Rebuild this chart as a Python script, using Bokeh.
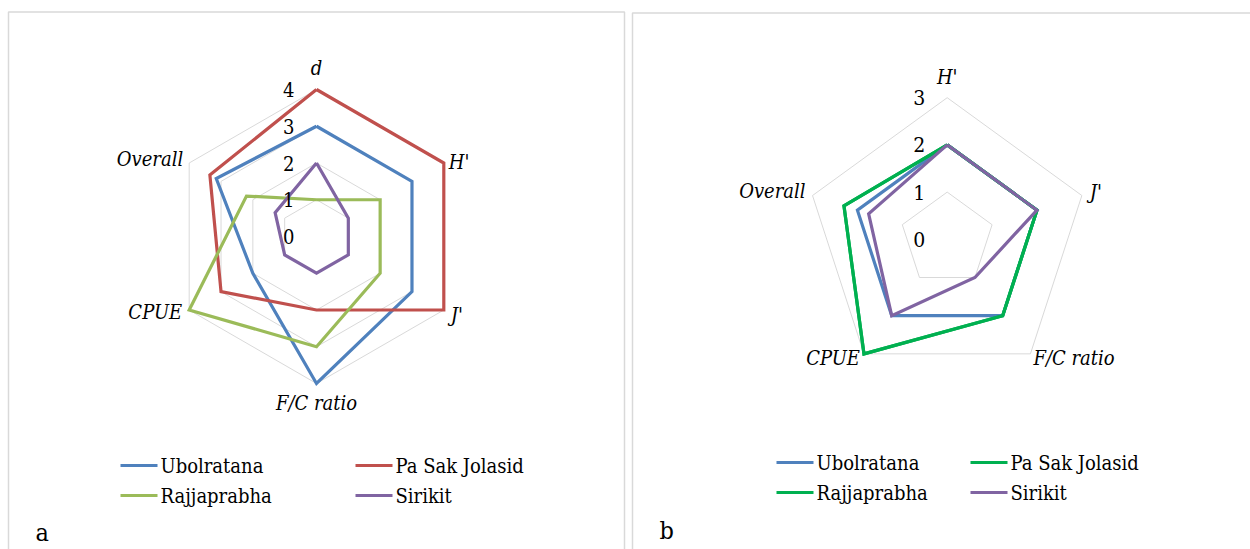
import math
from bokeh.plotting import figure
from bokeh.models import Range1d
from bokeh.core.properties import value
from bokeh.embed import file_html
from bokeh.resources import INLINE

# ---- data -------------------------------------------------------------
axes_a = ["d", "H'", "J'", "F/C ratio", "CPUE", "Overall"]
ubolratana_a = [3, 3, 3, 4, 2, 3.15]
pasak_a = [4, 4, 4, 2, 3, 3.35]
rajjaprabha_a = [1, 2, 2, 3, 4, 2.2]
sirikit_a = [2, 1, 1, 1, 1, 1.3]
ticks_a = [0, 1, 2, 3, 4]

axes_b = ["H'", "J'", "F/C ratio", "CPUE", "Overall"]
ubolratana_b = [2, 2, 2, 2, 2.0]
pasak_b = [2, 2, 2, 3, 2.3]
rajjaprabha_b = [2, 2, 2, 3, 2.3]
sirikit_b = [2, 2, 1, 2, 1.75]
ticks_b = [0, 1, 2, 3]

reservoirs = ["Ubolratana", "Pa Sak Jolasid", "Rajjaprabha", "Sirikit"]
colors_a = ["#4f81bd", "#c0504d", "#9bbb59", "#8064a2"]
colors_b = ["#4f81bd", "#00b050", "#00b050", "#8064a2"]

SERIF = value("DejaVu Serif Condensed")
GRID = "#d9d9d9"

W, H = 1250, 549
p = figure(width=W, height=H, x_range=Range1d(0, W), y_range=Range1d(H, 0),
           output_backend="svg", toolbar_location=None, min_border=0)
p.axis.visible = False
p.grid.visible = False
p.outline_line_color = None
p.background_fill_color = "white"

# panel frames
p.quad(left=[8, 632], right=[624, 1262], top=[11.5, 12.5], bottom=[570, 570],
       fill_color=None, line_color=GRID, line_width=1.5)


def spoke(n, k):
    # angle of the k-th axis, first axis pointing straight up, clockwise
    return math.pi / 2 - 2 * math.pi * k / n


def pt(cx, cy, unit, n, k, v):
    a = spoke(n, k)
    return cx + v * unit * math.cos(a), cy - v * unit * math.sin(a)


def radar(cx, cy, unit, axes, series, colors, ticks, tick_size, label_offsets):
    n = len(axes)
    # ring grid
    for t in ticks[1:]:
        xs, ys = zip(*[pt(cx, cy, unit, n, k, t) for k in range(n + 1)])
        p.line(list(xs), list(ys), line_color=GRID, line_width=1)
    # data polygons
    for vals, col in zip(series, colors):
        xs, ys = zip(*[pt(cx, cy, unit, n, k % n, vals[k % n]) for k in range(n + 1)])
        p.line(list(xs), list(ys), line_color=col, line_width=3.2, line_join="miter")
    # value ticks
    p.text(x=[cx - 22] * len(ticks), y=[cy - t * unit for t in ticks],
           text=[str(t) for t in ticks], text_font=SERIF, text_font_size=tick_size,
           text_align="right", text_baseline="middle", text_color="#000000")
    # category labels
    rmax = ticks[-1]
    for k, name in enumerate(axes):
        x0, y0 = pt(cx, cy, unit, n, k, rmax)
        dx, dy, align = label_offsets[k]
        p.text(x=[x0 + dx], y=[y0 + dy], text=[name], text_font=SERIF,
               text_font_style="italic", text_font_size="20px",
               text_align=align, text_baseline="middle", text_color="#000000")


radar(316, 236, 36.75, axes_a,
      [ubolratana_a, pasak_a, rajjaprabha_a, sirikit_a], colors_a, ticks_a, "20px",
      [(0, -22, "center"), (5, -1, "left"), (7, 5, "left"),
       (0, 19, "center"), (-7, 2, "right"), (-6, -4, "right")])

radar(946.7, 238.8, 47.2, axes_b,
      [ubolratana_b, pasak_b, rajjaprabha_b, sirikit_b], colors_b, ticks_b, "21px",
      [(0, -21, "center"), (8, -4, "left"), (3, 4, "left"),
       (-4, 4, "right"), (-7, -5, "right")])


def legend(x_cols, rows_y, colors):
    for i, (name, col) in enumerate(zip(reservoirs, colors)):
        x = x_cols[i % 2]
        y = rows_y[i // 2]
        p.segment(x0=[x], y0=[y], x1=[x + 37], y1=[y], line_color=col, line_width=3.2)
        p.text(x=[x + 40], y=[y], text=[name], text_font=SERIF, text_font_size="20px",
               text_align="left", text_baseline="middle", text_color="#000000")


legend([120, 355], [465, 495], colors_a)
legend([776, 970], [462, 492], colors_b)

p.text(x=[35, 659], y=[532, 530], text=["a", "b"], text_font=SERIF,
       text_font_size="25px", text_align="left", text_baseline="middle",
       text_color="#000000")

open("out.html", "w").write(file_html(p, INLINE))
